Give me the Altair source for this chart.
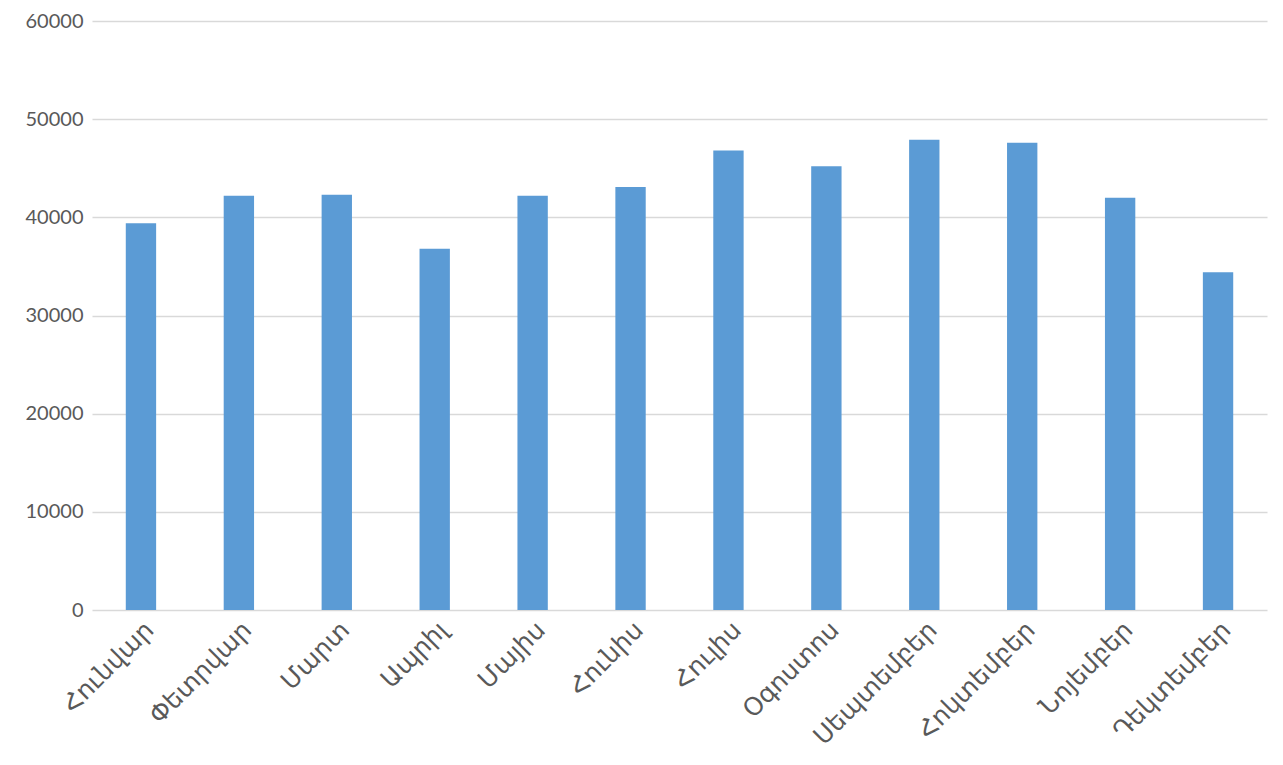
import altair as alt
import pandas as pd

months = ["Հունվար", "Փետրվար", "Մարտ", "Ապրիլ", "Մայիս", "Հունիս",
          "Հուլիս", "Օգոստոս", "Սեպտեմբեր", "Հոկտեմբեր", "Նոյեմբեր", "Դեկտեմբեր"]
values = [39400, 42200, 42300, 36800, 42200, 43100,
          46800, 45200, 47900, 47600, 42000, 34400]
y_ticks = [0, 10000, 20000, 30000, 40000, 50000, 60000]

df = pd.DataFrame({"month": months, "value": values})

font = "Lato, 'DejaVu Sans', sans-serif"
xfont = "'DejaVu Sans', sans-serif"

chart = alt.Chart(df).mark_bar(color="#5b9bd5").encode(
    x=alt.X("month:N", sort=months, title=None,
            scale=alt.Scale(paddingInner=0.69, paddingOuter=0.345),
            axis=alt.Axis(labelAngle=-45, labelFontSize=25, labelColor="#595959",
                          labelFont=xfont, ticks=False, domain=False, labelPadding=7,
                          labelAlign="right", labelBaseline="top", grid=False,
                          labelLimit=300, labelOverlap=False)),
    y=alt.Y("value:Q", title=None,
            scale=alt.Scale(domain=[0, 60000], nice=False),
            axis=alt.Axis(values=y_ticks, format="d", labelFontSize=20,
                          labelColor="#595959", labelFont=font, ticks=False,
                          domain=False, labelPadding=9, gridColor="#d9d9d9",
                          gridWidth=1.6)),
).properties(
    width=1175, height=589,
    autosize=alt.AutoSizeParams(type="none"),
    padding={"left": 84, "top": 13, "right": 8, "bottom": 147},
).configure_view(stroke=None)

chart.save("out.html", embed_options={"renderer": "svg", "actions": False})
